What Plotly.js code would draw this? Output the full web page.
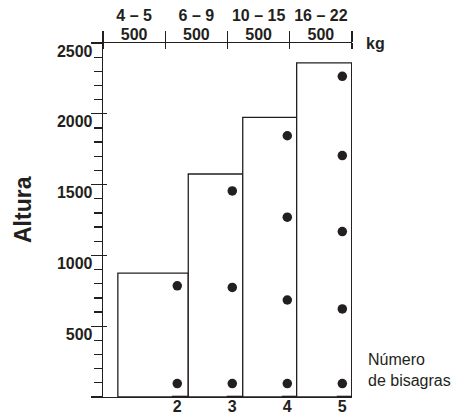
<!DOCTYPE html>
<html>
<head>
<meta charset="utf-8">
<script src="https://cdn.plot.ly/plotly-3.0.1.min.js"></script>
<style>html,body{margin:0;padding:0;background:#fff;}#chart{width:462px;height:414px;}</style>
</head>
<body>
<div id="chart"></div>
<script>
// ---- data ----
const hingeCounts = [2, 3, 4, 5];
const weightRanges = ['4 – 5', '6 – 9', '10 – 15', '16 – 22'];
const widthLabels = ['500', '500', '500', '500'];
const doorHeights = [875, 1575, 1975, 2360];
const barLeft = [0.92, 2.2, 3.19, 4.17];
const barRight = [2.2, 3.19, 4.17, 5.17];
const hingePositions = [
  [785, 95],
  [1455, 774, 95],
  [1845, 1270, 685, 95],
  [2265, 1705, 1168, 622, 95]
];
const yTickVals = [0, 500, 1000, 1500, 2000, 2500];
const yTickText = ['', '500', '1000', '1500', '2000', '2500'];
const topDividers = [0, 1, 2, 3, 4];
const topCenters = [0.5, 1.5, 2.5, 3.5];

// ---- styling ----
const ink = '#231f20';
const fam = 'Liberation Sans, Arial, Helvetica, sans-serif';
const boldFont = {family: fam, size: 16, color: ink, weight: 'bold'};
const hingeSideOffset = 0.1;

const centers = barLeft.map((l, i) => (l + barRight[i]) / 2);
const widths = barLeft.map((l, i) => barRight[i] - l);

const dotX = [], dotY = [];
hingePositions.forEach((arr, i) => arr.forEach(v => { dotX.push(hingeCounts[i]); dotY.push(v); }));

// thick hinge-side marks along the base line
const edgeX = [], edgeY = [];
hingeCounts.forEach((h, i) => { edgeX.push(h - hingeSideOffset, barRight[i], null); edgeY.push(0, 0, null); });

const traces = [
  {type: 'bar', x: centers, y: doorHeights, width: widths, base: 0,
   marker: {color: '#ffffff', line: {color: ink, width: 1.3}},
   hoverinfo: 'skip', xaxis: 'x', yaxis: 'y'},
  {type: 'scatter', mode: 'lines', x: edgeX, y: edgeY, cliponaxis: false,
   line: {color: ink, width: 2.6}, xaxis: 'x', yaxis: 'y'},
  {type: 'scatter', mode: 'markers', x: dotX, y: dotY,
   marker: {size: 9.5, color: ink}, xaxis: 'x', yaxis: 'y'},
  {type: 'scatter', mode: 'markers', x: [], y: [], xaxis: 'x2', yaxis: 'y'},
  {type: 'scatter', mode: 'markers', x: [], y: [], xaxis: 'x3', yaxis: 'y'},
  {type: 'scatter', mode: 'markers', x: [], y: [], xaxis: 'x', yaxis: 'y2'}
];

const common = {showgrid: false, zeroline: false, fixedrange: true};

const layout = {
  width: 462, height: 414,
  margin: {l: 103, r: 110, t: 43, b: 17, pad: 0},
  paper_bgcolor: '#fff', plot_bgcolor: '#fff',
  showlegend: false, barmode: 'overlay',
  font: {family: fam, color: ink},
  xaxis: Object.assign({}, common, {
    range: [0.65, 5.176], tickmode: 'array', tickvals: hingeCounts,
    ticks: '', showline: true, linecolor: ink, linewidth: 1.3,
    tickfont: boldFont, ticklabelstandoff: -6
  }),
  xaxis2: Object.assign({}, common, {
    overlaying: 'x', side: 'top', anchor: 'y', range: [0, 4],
    tickmode: 'array', tickvals: topCenters, ticktext: widthLabels,
    ticks: '', showline: true, linecolor: ink, linewidth: 1.3,
    tickfont: boldFont, ticklabelstandoff: -5,
    minor: {tickmode: 'array', tickvals: topDividers, ticks: 'outside', ticklen: 11, tickwidth: 1.3, tickcolor: ink}
  }),
  xaxis3: Object.assign({}, common, {
    overlaying: 'x', side: 'top', anchor: 'y', range: [0, 4],
    tickmode: 'array', tickvals: topCenters, ticktext: weightRanges,
    ticks: '', showline: false,
    tickfont: boldFont, ticklabelstandoff: 18,
    minor: {tickmode: 'array', tickvals: topDividers, ticks: 'inside', ticklen: 6, tickwidth: 1.3, tickcolor: ink}
  }),
  yaxis: Object.assign({}, common, {
    range: [0, 2500], tickmode: 'array', tickvals: yTickVals, ticktext: yTickText,
    ticks: 'outside', ticklen: 11, tickwidth: 1.3, tickcolor: ink,
    showline: true, linecolor: ink, linewidth: 1.3,
    tickfont: boldFont, ticklabelshift: 8, ticklabelstandoff: -5,
    minor: {tickmode: 'linear', tick0: 0, dtick: 100, ticks: 'outside', ticklen: 8, tickwidth: 1.3, tickcolor: ink}
  }),
  yaxis2: Object.assign({}, common, {
    overlaying: 'y', side: 'left', anchor: 'x', range: [0, 2500],
    tickmode: 'array', tickvals: yTickVals, showticklabels: false,
    ticks: 'inside', ticklen: 4, tickwidth: 1.3, tickcolor: ink, showline: false
  }),
  annotations: [
    {text: 'kg', xref: 'paper', yref: 'paper', x: 1, y: 1, xanchor: 'left', yanchor: 'middle',
     xshift: 12, yshift: 0, showarrow: false, font: boldFont},
    {text: 'Número<br>de bisagras', xref: 'paper', yref: 'paper', x: 1, y: 0,
     xanchor: 'left', yanchor: 'middle', align: 'left', xshift: 14, yshift: 27,
     showarrow: false, font: {family: fam, size: 16, color: ink}},
    {text: 'Altura', xref: 'paper', yref: 'paper', x: 0, y: 0.5, textangle: -90,
     xanchor: 'center', yanchor: 'middle', xshift: -80, yshift: 10,
     showarrow: false, font: {family: fam, size: 23, color: ink, weight: 'bold'}}
  ]
};

Plotly.newPlot('chart', traces, layout, {staticPlot: true, displayModeBar: false});
</script>
</body>
</html>
